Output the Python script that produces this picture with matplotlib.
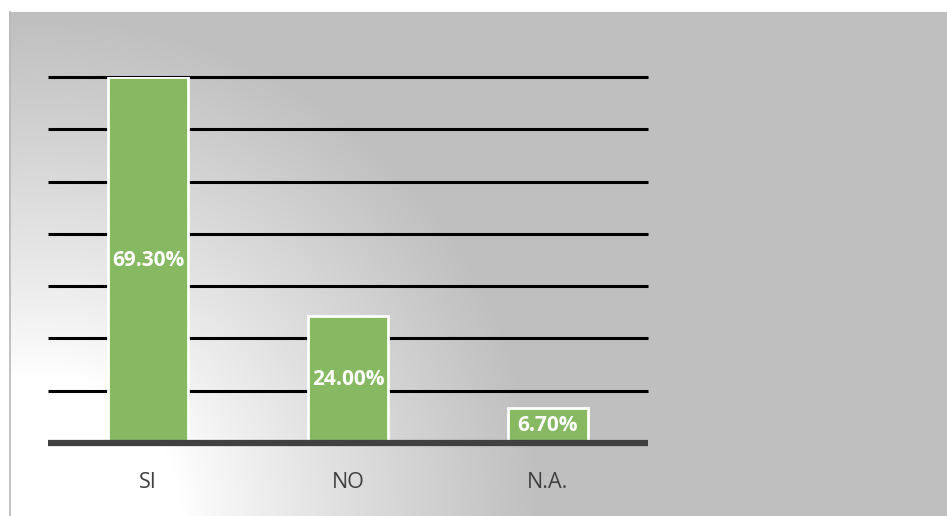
import numpy as np
import matplotlib.pyplot as plt

categories = ['SI', 'NO', 'N.A.']
values = [69.3, 24.0, 6.7]
labels = ['69.30%', '24.00%', '6.70%']

W, H = 947, 516
fig = plt.figure(figsize=(W / 100, H / 100), dpi=100)

# background: gray panel with a radial light spot at the lower left
bg = fig.add_axes([0, 0, 1, 1], zorder=-5)
yy, xx = np.mgrid[0:H, 0:W]
d = np.hypot(xx - 40, yy - 516)
t = np.clip((d - 140) / 360, 0, 1)
g = 255 - 64 * t ** 0.9
g[yy < 12] = 255
g[xx < 9] = 255
g = g / 255
bg.imshow(np.dstack([g, g, g]), extent=[0, W, H, 0], interpolation='bilinear')
bg.plot([10, 10], [12, 516], color='#b8b8b8', lw=1.2)
bg.set_xlim(0, W)
bg.set_ylim(H, 0)
bg.axis('off')

ax = fig.add_axes([48 / W, 73 / H, 600 / W, 366 / H])
ax.patch.set_alpha(0)
x = np.arange(len(categories))
ax.bar(x, values, width=0.4, color='#86b962', edgecolor='white', linewidth=2, zorder=3)
top = 69.3
for yv in np.linspace(0, top, 8)[1:]:
    ax.axhline(yv, color='black', lw=2.2, zorder=2, clip_on=False, solid_capstyle='butt')
ax.axhline(0, color='#404040', lw=4.5, zorder=4, clip_on=False, solid_capstyle='butt')

for xi, v, lab in zip(x, values, labels):
    ax.text(xi, v / 2, lab, ha='center', va='center', color='white',
            fontsize=15, fontweight='bold', family='Open Sans', zorder=5)

ax.set_xlim(-0.5, 2.5)
ax.set_ylim(0, top)
ax.set_xticks(x)
ax.set_xticklabels(categories, fontsize=15.5, color='#404040', family='Open Sans')
ax.tick_params(axis='x', length=0, pad=21)
ax.set_yticks([])
for s in ax.spines.values():
    s.set_visible(False)

fig.savefig('out.png', dpi=100)
